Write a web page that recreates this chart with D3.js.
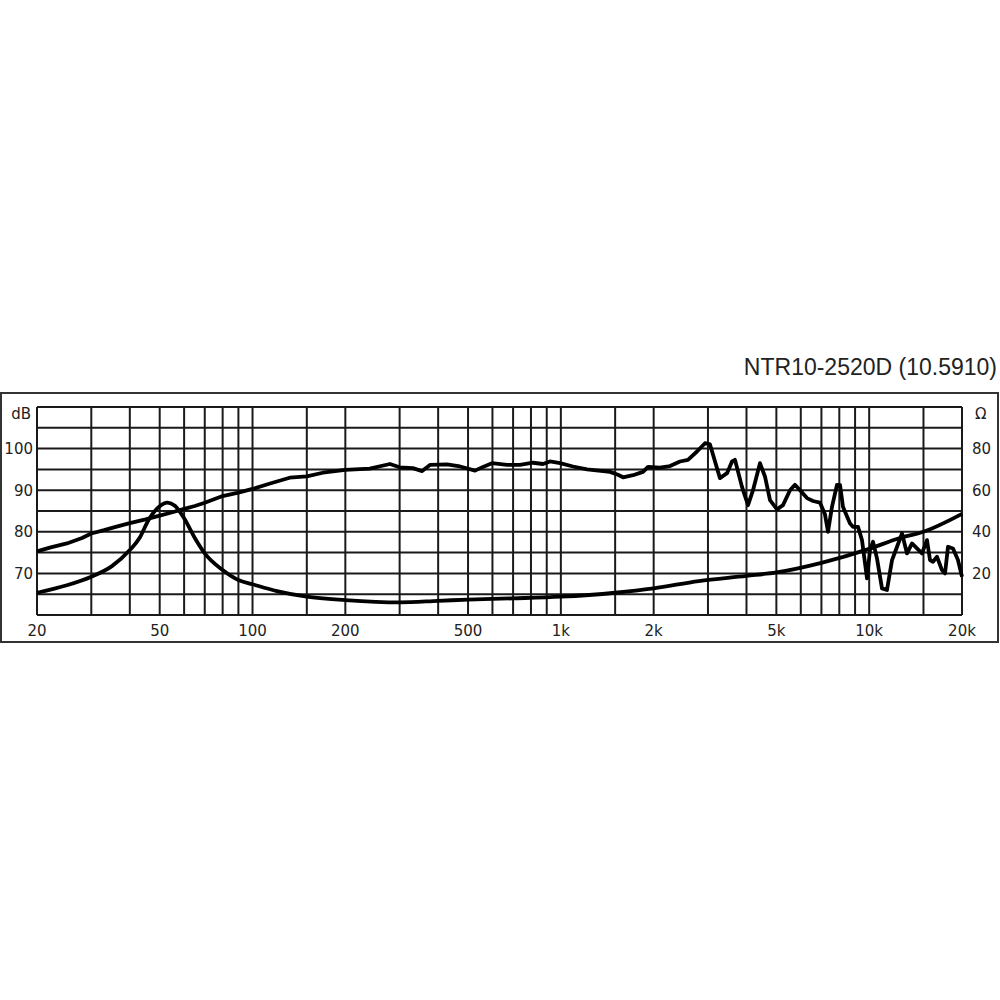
<!DOCTYPE html>
<html>
<head>
<meta charset="utf-8">
<script src="https://cdn.jsdelivr.net/npm/d3@7"></script>
<style>
  html, body { margin: 0; padding: 0; background: #fff; }
  .tick-label { font-family: "DejaVu Sans", Verdana, sans-serif; font-size: 15px; fill: #222; }
  .title { font-family: "Liberation Sans", Arial, sans-serif; font-size: 23px; fill: #222; }
</style>
</head>
<body>
<svg id="chart" width="1000" height="1000"></svg>
<script>
// frequency response (dB)
const splFreq = [20, 22, 25, 28, 30, 33, 36, 40, 45, 50, 55, 60, 65, 70, 80, 90, 100, 114, 132, 150, 169, 200, 240, 279, 300, 331, 355, 377, 427, 471, 527, 559, 598, 669, 737, 812, 875, 922, 994, 1095, 1216, 1444, 1532, 1591, 1714, 1847, 1917, 2096, 2260, 2434, 2584, 2764, 2934, 3046, 3281, 3460, 3590, 3670, 3868, 4046, 4200, 4424, 4592, 4768, 5024, 5254, 5536, 5745, 5966, 6286, 6572, 6926, 7188, 7352, 7574, 7864, 8042, 8222, 8666, 8862, 9200, 9476, 9840, 10060, 10288, 10600, 11004, 11420, 11860, 12312, 12778, 13264, 13768, 14290, 14834, 15398, 15750, 16104, 16592, 17220, 17620, 18016, 18698, 19410, 20000];
const splDb = [75.3, 76.2, 77.2, 78.5, 79.6, 80.4, 81.2, 82.1, 83.0, 83.9, 84.7, 85.5, 86.2, 87.0, 88.6, 89.4, 90.3, 91.6, 93.0, 93.3, 94.2, 94.9, 95.2, 96.3, 95.5, 95.3, 94.6, 96.1, 96.2, 95.7, 94.7, 95.6, 96.5, 96.1, 96.1, 96.6, 96.3, 96.9, 96.5, 95.7, 95.0, 94.4, 93.7, 93.1, 93.6, 94.4, 95.6, 95.4, 95.8, 96.9, 97.3, 99.3, 101.3, 101.0, 92.9, 94.1, 96.9, 97.3, 90.8, 86.4, 90.0, 96.5, 93.3, 87.6, 85.4, 86.4, 90.0, 91.3, 90.0, 88.1, 87.4, 87.0, 84.2, 80.0, 86.0, 91.3, 91.3, 86.0, 82.0, 81.2, 81.2, 78.0, 68.8, 75.6, 77.6, 73.6, 66.4, 66.0, 73.2, 76.4, 79.6, 74.8, 77.2, 76.0, 74.8, 78.0, 73.2, 72.8, 74.0, 70.8, 70.0, 76.4, 76.0, 73.2, 69.2];

// impedance (ohm)
const impFreq = [20, 25, 30, 35, 40, 43, 46, 50, 53, 56, 60, 65, 70, 80, 90, 100, 120, 150, 200, 300, 400, 500, 700, 1000, 1500, 2000, 2800, 4000, 5000, 7000, 10000, 12500, 15000, 20000];
const impOhm = [10.7, 14.3, 18.4, 23.5, 31.2, 37.0, 45.7, 52.3, 54.0, 52.5, 46.5, 37.0, 29.6, 21.6, 16.8, 14.8, 11.5, 8.8, 7.2, 6.1, 6.8, 7.4, 8.0, 8.8, 10.7, 12.8, 16.3, 18.8, 20.5, 25.1, 31.8, 36.9, 40.0, 48.6];

const gridFreq = [20, 30, 40, 50, 60, 70, 80, 90, 100, 150, 200, 300, 400, 500, 600, 700, 800, 900, 1000, 1500, 2000, 3000, 4000, 5000, 6000, 7000, 8000, 9000, 10000, 15000, 20000];
const xTickFreq = [20, 50, 100, 200, 500, 1000, 2000, 5000, 10000, 20000];
const xTickText = ["20", "50", "100", "200", "500", "1k", "2k", "5k", "10k", "20k"];
const dbGrid = [60, 65, 70, 75, 80, 85, 90, 95, 100, 105, 110];
const dbTicks = [70, 80, 90, 100];
const ohmTicks = [20, 40, 60, 80];
const title = "NTR10-2520D (10.5910)";

const plot = { left: 37, right: 962, top: 407, bottom: 615 };

const svg = d3.select("#chart");

const x = d3.scaleLog().domain([20, 20000]).range([plot.left, plot.right]);
const yDb = d3.scaleLinear().domain([60, 110]).range([plot.bottom, plot.top]);
const yOhm = d3.scaleLinear().domain([0, 100]).range([plot.bottom, plot.top]);

// outer frame
svg.append("rect")
  .attr("x", 1).attr("y", 393)
  .attr("width", 997).attr("height", 249)
  .attr("fill", "none").attr("stroke", "#333").attr("stroke-width", 2);

// title
svg.append("text").attr("class", "title")
  .attr("x", 997).attr("y", 375)
  .attr("text-anchor", "end")
  .text(title);

// grid
const grid = svg.append("g").attr("stroke", "#1a1a1a").attr("stroke-width", 2);
grid.selectAll("line.v").data(gridFreq).enter().append("line")
  .attr("class", "v")
  .attr("x1", (d) => x(d)).attr("x2", (d) => x(d))
  .attr("y1", plot.top).attr("y2", plot.bottom);
grid.selectAll("line.h").data(dbGrid).enter().append("line")
  .attr("class", "h")
  .attr("x1", plot.left).attr("x2", plot.right)
  .attr("y1", (d) => yDb(d)).attr("y2", (d) => yDb(d));

// axis labels
svg.selectAll("text.xl").data(xTickFreq).enter().append("text")
  .attr("class", "tick-label xl")
  .attr("x", (d) => x(d)).attr("y", 636)
  .attr("text-anchor", "middle")
  .text((d, i) => xTickText[i]);

svg.selectAll("text.yl").data(dbTicks).enter().append("text")
  .attr("class", "tick-label yl")
  .attr("x", 33).attr("y", (d) => yDb(d)).attr("dy", "0.36em")
  .attr("text-anchor", "end")
  .text((d) => d);
svg.append("text").attr("class", "tick-label")
  .attr("x", 31).attr("y", yDb(108.5)).attr("dy", "0.36em")
  .attr("text-anchor", "end").text("dB");

svg.selectAll("text.yr").data(ohmTicks).enter().append("text")
  .attr("class", "tick-label yr")
  .attr("x", 972).attr("y", (d) => yOhm(d)).attr("dy", "0.36em")
  .text((d) => d);
svg.append("text").attr("class", "tick-label")
  .attr("x", 975).attr("y", yOhm(97)).attr("dy", "0.36em").text("Ω");

// curves
const splLine = d3.line()
  .x((d, i) => x(splFreq[i]))
  .y((d) => yDb(d));
const impLine = d3.line()
  .x((d, i) => x(impFreq[i]))
  .y((d) => yOhm(d))
  .curve(d3.curveMonotoneX);

svg.append("path")
  .attr("d", impLine(impOhm))
  .attr("fill", "none").attr("stroke", "#000")
  .attr("stroke-width", 3.8).attr("stroke-linejoin", "round");
svg.append("path")
  .attr("d", splLine(splDb))
  .attr("fill", "none").attr("stroke", "#000")
  .attr("stroke-width", 3.8).attr("stroke-linejoin", "round");
</script>
</body>
</html>
